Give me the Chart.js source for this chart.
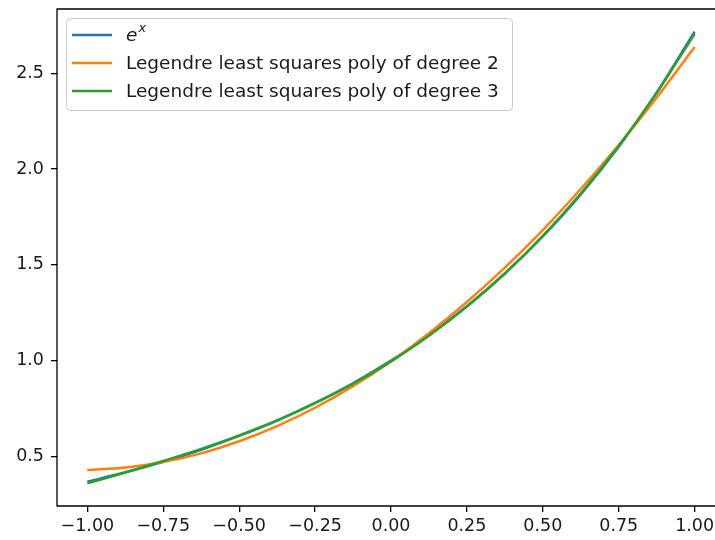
<!DOCTYPE html>
<html>
<head>
<meta charset="utf-8">
<script src="https://cdn.jsdelivr.net/npm/chart.js@4.4.1/dist/chart.umd.min.js"></script>
<style>
  html, body { margin: 0; padding: 0; background: #fff; overflow: hidden; width: 715px; height: 540px; }
  #wrap { width: 715px; height: 540px; overflow: hidden; position: relative; }
  #plot { display: block; position: absolute; left: 0; top: 0; }
</style>
</head>
<body>
<div id="wrap">
<canvas id="plot" width="760" height="540"></canvas>
</div>
<script>

// values
const xs = [-1, -0.875, -0.75, -0.625, -0.5, -0.375, -0.25, -0.125, 0,
            0.125, 0.25, 0.375, 0.5, 0.625, 0.75, 0.875, 1];

const expVals = [0.368, 0.417, 0.472, 0.535, 0.607, 0.687, 0.779, 0.882, 1.0,
                 1.133, 1.284, 1.455, 1.649, 1.868, 2.117, 2.399, 2.718];

const deg2Vals = [0.429, 0.442, 0.471, 0.516, 0.579, 0.658, 0.754, 0.867, 0.996,
                  1.143, 1.306, 1.486, 1.682, 1.896, 2.126, 2.373, 2.637];

const deg3Vals = [0.359, 0.416, 0.476, 0.539, 0.610, 0.688, 0.778, 0.880, 0.996,
                  1.130, 1.282, 1.455, 1.652, 1.873, 2.121, 2.398, 2.707];

const seriesNames = ["e^x", "Legendre least squares poly of degree 2", "Legendre least squares poly of degree 3"];
const seriesColors = ["#1f77b4", "#ff7f0e", "#2ca02c"];

const xTicks = [-1, -0.75, -0.5, -0.25, 0, 0.25, 0.5, 0.75, 1];
const yTicks = [0.5, 1.0, 1.5, 2.0, 2.5];

const FONT = "DejaVu Sans";


function pts(vals) {
    return xs.map(function (x, i) { return { x: x, y: vals[i] }; });
}

function noPad(s) {
    s.paddingTop = 0;
    s.paddingBottom = 0;
    s.paddingLeft = 0;
    s.paddingRight = 0;
}


// spines + legend in the upper left
const frameAndLegend = {
    id: "frameAndLegend",
    afterDraw: function (chart) {
        const ctx = chart.ctx;
        const a = chart.chartArea;

        ctx.save();
        ctx.strokeStyle = "#000";
        ctx.lineWidth = 1.3;
        ctx.beginPath();
        ctx.moveTo(a.right, a.top);
        ctx.lineTo(a.left, a.top);
        ctx.lineTo(a.left, a.bottom);
        ctx.lineTo(a.right, a.bottom);
        ctx.stroke();

        // legend frame
        ctx.beginPath();
        ctx.roundRect(66.5, 18.5, 446, 92, 4);
        ctx.fillStyle = "rgba(255,255,255,0.8)";
        ctx.fill();
        ctx.strokeStyle = "#cccccc";
        ctx.lineWidth = 1;
        ctx.stroke();

        chart.data.datasets.forEach(function (ds, i) {
            const yy = 35 + i * 28;

            ctx.beginPath();
            ctx.moveTo(72, yy);
            ctx.lineTo(112, yy);
            ctx.strokeStyle = ds.borderColor;
            ctx.lineWidth = 2.5;
            ctx.stroke();

            ctx.fillStyle = "#1a1a1a";
            ctx.textBaseline = "middle";
            ctx.textAlign = "left";

            const label = ds.label;
            if (label.indexOf("^") > 0) {
                const parts = label.split("^");
                ctx.font = "italic 18.5px '" + FONT + "'";
                ctx.fillText(parts[0], 126, yy + 1);
                const w = ctx.measureText(parts[0]).width;
                ctx.font = "italic 13px '" + FONT + "'";
                ctx.fillText(parts[1], 126 + w + 1, yy - 6);
            } else {
                ctx.font = "18.5px '" + FONT + "'";
                ctx.fillText(label, 126, yy + 1);
            }
        });

        ctx.restore();
    }
};


new Chart(
    document.getElementById("plot"),
    {
        type: "line",

        data: {
            datasets: [
                {
                    label: seriesNames[0],
                    data: pts(expVals),
                    borderColor: seriesColors[0],
                    order: 3
                },
                {
                    label: seriesNames[1],
                    data: pts(deg2Vals),
                    borderColor: seriesColors[1],
                    order: 2
                },
                {
                    label: seriesNames[2],
                    data: pts(deg3Vals),
                    borderColor: seriesColors[2],
                    order: 1
                }
            ]
        },

        options: {
            responsive: false,
            animation: false,

            layout: {
                padding: { top: 9, right: 35, left: 0, bottom: 0 }
            },

            elements: {
                point: { radius: 0 },
                line: {
                    borderWidth: 2.5,
                    cubicInterpolationMode: "monotone",
                    fill: false
                }
            },

            plugins: {
                legend: { display: false },
                tooltip: { enabled: false }
            },

            scales: {
                x: {
                    type: "linear",
                    min: -1.1,
                    max: 1.1,
                    afterBuildTicks: function (s) {
                        s.ticks = xTicks.map(function (v) { return { value: v }; });
                    },
                    afterFit: function (s) { s.height = 34; noPad(s); },
                    border: { display: false },
                    grid: {
                        drawOnChartArea: false,
                        drawTicks: true,
                        tickLength: 6,
                        color: "#000",
                        lineWidth: 1.3
                    },
                    ticks: {
                        autoSkip: false,
                        maxRotation: 0,
                        padding: 4,
                        color: "#1a1a1a",
                        font: { family: FONT, size: 17.5 },
                        callback: function (v) {
                            return Number(v).toFixed(2).replace("-", "\u2212");
                        }
                    }
                },
                y: {
                    type: "linear",
                    min: 0.241,
                    max: 2.836,
                    afterBuildTicks: function (s) {
                        s.ticks = yTicks.map(function (v) { return { value: v }; });
                    },
                    afterFit: function (s) { s.width = 57; noPad(s); },
                    border: { display: false },
                    grid: {
                        drawOnChartArea: false,
                        drawTicks: true,
                        tickLength: 6,
                        color: "#000",
                        lineWidth: 1.3
                    },
                    ticks: {
                        autoSkip: false,
                        padding: 7,
                        color: "#1a1a1a",
                        font: { family: FONT, size: 17.5 },
                        callback: function (v) {
                            return Number(v).toFixed(1);
                        }
                    }
                }
            }
        },

        plugins: [frameAndLegend]
    }
);

</script>
</body>
</html>
